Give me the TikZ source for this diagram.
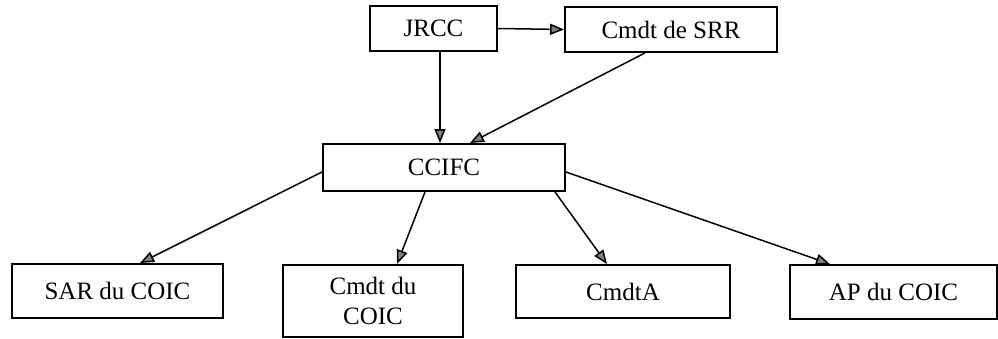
\documentclass[tikz,border=0pt]{standalone}
\usepackage{fontspec}
\setmainfont{Liberation Serif}
\usetikzlibrary{arrows.meta}

\begin{document}
\begin{tikzpicture}[x=1pt, y=-1pt,
  box/.style={draw, line width=1.9pt, inner sep=0pt, align=center,
    font=\fontsize{25}{30}\selectfont},
  arr/.style={line width=1.5pt, -{Triangle[length=14pt,width=11pt,fill=gray]}}]
\useasboundingbox (0,0) rectangle (998,339);

% top row
\node[box, minimum width=127, minimum height=45] (jrcc) at (433.5, 28.5) {JRCC};
\node[box, minimum width=212, minimum height=45] (srr)  at (671, 29.5) {Cmdt de SRR};

% middle
\node[box, minimum width=242, minimum height=47] (ccifc) at (444, 167.5) {CCIFC};

% bottom row
\node[box, minimum width=211, minimum height=54] (sar)   at (117.5, 291) {SAR du COIC};
\node[box, minimum width=180, minimum height=72] (cmdt)  at (373, 301) {Cmdt du\\COIC};
\node[box, minimum width=214, minimum height=53] (cmdta) at (623, 291.5) {CmdtA};
\node[box, minimum width=207, minimum height=54] (ap)    at (893.5, 292) {AP du COIC};

% arrows
\draw[arr] (jrcc.east) -- (srr.west);
\draw[arr] ([xshift=6.5]jrcc.south) -- ([xshift=6.5]jrcc.south |- ccifc.north);
\draw[arr] ([xshift=-26]srr.south) -- ([xshift=26]ccifc.north);
\draw[arr] ([yshift=-4.5]ccifc.west) -- ([xshift=22.5]sar.north);
\draw[arr] ([xshift=-19]ccifc.south) -- ([xshift=24]cmdt.north);
\draw[arr] ([xshift=111]ccifc.south) -- ([xshift=-16]cmdta.north);
\draw[arr] ([yshift=-4.5]ccifc.east) -- ([xshift=-63.5]ap.north);
\end{tikzpicture}
\end{document}
